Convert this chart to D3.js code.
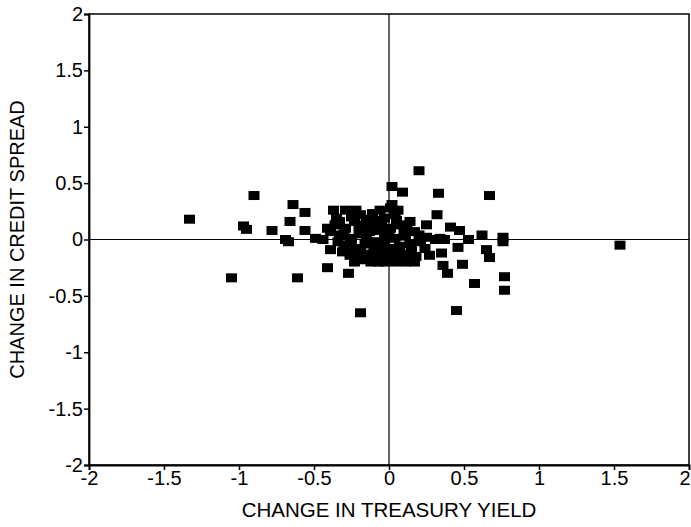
<!DOCTYPE html>
<html>
<head>
<meta charset="utf-8">
<script src="https://cdn.jsdelivr.net/npm/d3@7"></script>
<style>
  html, body { margin: 0; padding: 0; background: #fff; }
  svg { display: block; }
  text { font-family: "Liberation Sans", Arial, sans-serif; fill: #000; }
</style>
</head>
<body>
<div id="chart"></div>
<script>
// Tick labels
const xTicks = [-2, -1.5, -1, -0.5, 0, 0.5, 1, 1.5, 2];
const yTicks = [-2, -1.5, -1, -0.5, 0, 0.5, 1, 1.5, 2];
const xTitle = "CHANGE IN TREASURY YIELD";
const yTitle = "CHANGE IN CREDIT SPREAD";

// Series: change in treasury yield (x) and change in credit spread (y)
const treasuryChange = [
  -1.33, -1.05, -0.90, -0.97, -0.95, -0.78, -0.69, -0.67, -0.64, -0.56,
  -0.66, -0.56, -0.49, -0.44, -0.41, -0.27, -0.61, -0.37, -0.29, -0.22,
  -0.19, -0.33,
  0.20, 0.02, 0.09, 0.33, 0.67, 0.01, 0.32, 0.25, 0.41, 0.47,
  0.62, 0.76, 0.53, 0.46, 0.65, 0.76, 0.67, 0.35, 0.49, 0.36,
  0.39, 0.57, 0.77, 0.77, 0.45, -0.19, 1.54,
  -0.36, -0.29, -0.23, -0.16, -0.09, -0.03, 0.04, -0.33, -0.26, -0.19,
  -0.13, -0.06, 0.01, 0.07, 0.14, -0.29, -0.23, -0.16, -0.09, -0.03,
  0.04, 0.11, 0.17, -0.26, -0.19, -0.13, -0.06, 0.01, 0.07, 0.14,
  0.21, -0.16, -0.09, -0.03, 0.04, 0.11, -0.34, -0.39, -0.41, 0.02,
  0.06, -0.06, -0.11, -0.03, 0.04, 0.11, 0.17, -0.07, 0.27, 0.24,
  0.31, 0.34, 0.37, -0.39, -0.31, -0.23,
  -0.30, -0.20, -0.10, 0.00, 0.10, -0.25, -0.15, -0.05, 0.05, 0.15,
  -0.20, -0.10, 0.00, 0.08, -0.35, -0.25, -0.15, -0.05, 0.05, 0.12,
  -0.30, 0.20, 0.25, 0.18, -0.12
];
const spreadChange = [
  0.18, -0.34, 0.39, 0.12, 0.09, 0.08, 0.00, -0.02, 0.31, 0.24,
  0.16, 0.08, 0.01, 0.00, -0.25, -0.30, -0.34, 0.26, 0.26, 0.26,
  0.22, 0.16,
  0.61, 0.47, 0.42, 0.41, 0.39, 0.28, 0.22, 0.13, 0.11, 0.08,
  0.04, 0.02, 0.00, -0.07, -0.09, -0.02, -0.16, -0.12, -0.22, -0.23,
  -0.30, -0.39, -0.33, -0.45, -0.63, -0.65, -0.05,
  0.13, 0.10, 0.16, 0.13, 0.17, 0.19, 0.22, 0.04, 0.01, 0.05,
  0.07, 0.08, 0.10, 0.13, 0.16, -0.05, -0.08, -0.04, -0.02, 0.00,
  0.01, 0.03, 0.07, -0.14, -0.11, -0.13, -0.09, -0.08, -0.06, -0.04,
  -0.02, -0.18, -0.16, -0.16, -0.14, -0.13, -0.02, 0.07, 0.10, 0.31,
  0.26, 0.26, 0.23, -0.20, -0.20, -0.20, -0.20, -0.20, -0.14, -0.08,
  0.00, 0.01, 0.00, -0.09, -0.11, -0.20,
  0.05, 0.09, 0.11, 0.04, 0.08, -0.02, 0.00, -0.05, -0.10, -0.10,
  -0.15, -0.07, -0.12, -0.17, 0.19, 0.20, 0.18, 0.14, 0.17, 0.11,
  -0.08, 0.04, 0.02, -0.15, -0.20
];

const W = 691, H = 527;
const margin = { left: 89, right: 2, top: 14, bottom: 62 };

const svg = d3.select("#chart").append("svg")
  .attr("width", W).attr("height", H);

const x = d3.scaleLinear().domain([-2, 2]).range([margin.left, W - margin.right]);
const y = d3.scaleLinear().domain([-2, 2]).range([H - margin.bottom, margin.top]);

// frame
svg.append("rect")
  .attr("x", x(-2)).attr("y", y(2))
  .attr("width", x(2) - x(-2)).attr("height", y(-2) - y(2))
  .attr("fill", "none").attr("stroke", "#000").attr("stroke-width", 1.5);

// zero lines
svg.append("line")
  .attr("x1", x(0)).attr("x2", x(0)).attr("y1", y(2)).attr("y2", y(-2))
  .attr("stroke", "#000").attr("stroke-width", 1.2);
svg.append("line")
  .attr("x1", x(-2)).attr("x2", x(2)).attr("y1", y(0)).attr("y2", y(0))
  .attr("stroke", "#000").attr("stroke-width", 1.2);

// axes
const xAxis = d3.axisBottom(x).tickValues(xTicks).tickSize(5).tickPadding(1)
  .tickFormat(d => String(d));
const yAxis = d3.axisLeft(y).tickValues(yTicks).tickSize(5).tickPadding(1)
  .tickFormat(d => String(d));

const gx = svg.append("g").attr("transform", `translate(0,${y(-2)})`).call(xAxis);
const gy = svg.append("g").attr("transform", `translate(${x(-2)},0)`).call(yAxis);
[gx, gy].forEach(g => {
  g.select(".domain").attr("stroke", "#000").attr("stroke-width", 1.8);
  g.selectAll(".tick line").attr("stroke", "#000").attr("stroke-width", 1.5);
  g.selectAll(".tick text").style("font-size", "20px")
    .style("font-family", "'Liberation Sans', Arial, sans-serif").attr("fill", "#000");
});
gx.selectAll(".tick text").attr("dy", "0.72em");
// keep the last x label inside the page (reference shows it at the right edge)
gx.selectAll(".tick text").filter(d => d === 2).attr("text-anchor", "end").attr("dx", "0.05em");

// titles
svg.append("text")
  .attr("x", (x(-2) + x(2)) / 2).attr("y", 517)
  .attr("text-anchor", "middle").style("font-size", "20.5px").text(xTitle);
svg.append("text")
  .attr("transform", `translate(24,${(y(-2) + y(2)) / 2}) rotate(-90)`)
  .attr("text-anchor", "middle").style("font-size", "20px").text(yTitle);

// points
const pts = treasuryChange.map((v, i) => ({ x: v, y: spreadChange[i] }));
const mw = 11, mh = 9;
svg.append("g").selectAll("rect").data(pts).join("rect")
  .attr("x", d => x(d.x) - mw / 2)
  .attr("y", d => y(d.y) - mh / 2)
  .attr("width", mw).attr("height", mh)
  .attr("fill", "#000");
</script>
</body>
</html>
